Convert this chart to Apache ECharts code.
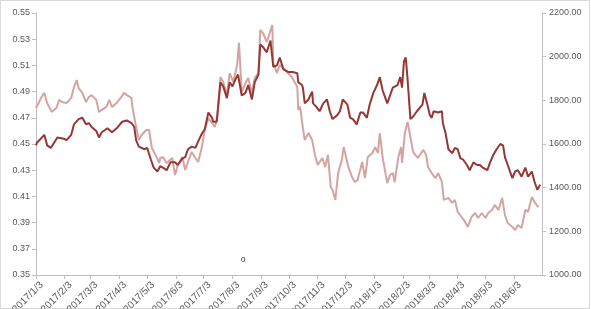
<!DOCTYPE html>
<html>
<head>
<meta charset="utf-8">
<script src="https://cdn.jsdelivr.net/npm/echarts@6/dist/echarts.min.js"></script>
<style>html,body{margin:0;padding:0;background:#fff;}#c{width:591px;height:309px;}</style>
</head>
<body>
<div id="c"></div>
<script>
// Calendar days since 2017/1/3 for each reading, and values
const darkDays = [0,1,9,12,16,23,30,33,38,41,46,50,54,57,60,65,68,71,77,82,87,93,98,103,106,108,111,117,120,124,127,131,134,137,141,145,150,153,158,161,164,168,172,175,179,182,186,190,191,195,196,199,202,206,209,212,215,218,222,226,229,233,236,240,242,245,249,253,256,260,263,267,272,277,282,283,287,288,290,294,298,299,303,306,310,314,317,320,325,328,331,336,339,342,346,350,353,357,360,364,368,371,374,379,382,385,390,393,395,397,399,401,404,407,411,417,419,422,425,427,429,434,438,439,442,445,449,452,455,458,461,465,468,472,476,479,482,487,490,493,497,501,504,506,509,514,517,520,524,528,531,535,538,541,544];
const darkValues = [0.449,0.451,0.457,0.449,0.447,0.455,0.454,0.453,0.457,0.465,0.469,0.470,0.465,0.466,0.463,0.460,0.455,0.459,0.462,0.459,0.462,0.467,0.468,0.466,0.463,0.453,0.448,0.446,0.447,0.438,0.432,0.429,0.433,0.432,0.430,0.436,0.436,0.434,0.439,0.440,0.446,0.448,0.447,0.452,0.458,0.461,0.474,0.470,0.467,0.467,0.475,0.497,0.494,0.485,0.497,0.494,0.499,0.503,0.487,0.489,0.495,0.484,0.497,0.503,0.526,0.524,0.520,0.529,0.509,0.510,0.516,0.507,0.505,0.505,0.504,0.497,0.495,0.493,0.481,0.484,0.490,0.481,0.478,0.475,0.481,0.484,0.475,0.469,0.472,0.475,0.484,0.480,0.470,0.469,0.465,0.474,0.474,0.470,0.480,0.489,0.495,0.501,0.491,0.481,0.487,0.493,0.495,0.501,0.493,0.513,0.516,0.499,0.469,0.471,0.475,0.480,0.489,0.481,0.472,0.470,0.475,0.474,0.475,0.466,0.458,0.446,0.443,0.447,0.446,0.439,0.438,0.434,0.430,0.436,0.434,0.434,0.432,0.430,0.436,0.441,0.446,0.450,0.449,0.440,0.434,0.424,0.429,0.430,0.425,0.432,0.425,0.429,0.421,0.415,0.419];
const lightDays = [0,1,6,9,12,17,22,25,28,33,38,41,44,46,50,54,57,60,65,68,71,76,79,82,87,92,95,98,103,104,108,111,114,119,122,125,129,133,134,137,141,147,150,153,158,161,164,168,172,175,179,182,186,190,193,196,199,202,206,209,213,217,219,222,226,229,233,236,240,242,245,249,255,256,260,263,269,272,276,282,283,285,288,290,294,298,301,304,309,312,315,318,320,323,326,330,332,337,341,344,347,352,355,358,363,366,369,371,374,379,382,385,387,391,394,395,398,401,404,407,412,418,421,423,427,431,434,438,440,445,449,452,455,460,463,466,470,474,477,481,485,488,492,495,499,503,506,509,514,517,520,524,528,531,535,538,542];
const lightValues = [1765,1770,1815,1834,1788,1747,1765,1802,1792,1788,1811,1861,1893,1856,1834,1792,1815,1824,1802,1747,1756,1770,1802,1770,1788,1815,1834,1824,1811,1770,1678,1618,1641,1664,1664,1582,1550,1513,1536,1540,1513,1536,1458,1504,1540,1481,1518,1563,1536,1518,1586,1664,1719,1696,1678,1733,1907,1884,1824,1925,1884,1962,2063,1838,1879,1902,1834,1902,1925,2122,2108,2067,2145,1971,1925,1962,1939,1925,1907,1861,1756,1770,1673,1618,1650,1618,1550,1504,1536,1495,1550,1403,1389,1344,1467,1527,1586,1495,1449,1426,1435,1518,1444,1540,1559,1586,1559,1650,1540,1421,1458,1467,1426,1540,1586,1513,1650,1701,1632,1563,1536,1573,1550,1495,1467,1444,1467,1426,1344,1353,1330,1344,1289,1261,1243,1220,1266,1284,1261,1284,1261,1284,1298,1321,1298,1353,1275,1238,1220,1206,1229,1215,1298,1289,1357,1334,1311];
const monthTicks = ['2017/1/3','2017/2/3','2017/3/3','2017/4/3','2017/5/3','2017/6/3','2017/7/3','2017/8/3','2017/9/3','2017/10/3','2017/11/3','2017/12/3','2018/1/3','2018/2/3','2018/3/3','2018/4/3','2018/5/3','2018/6/3'];
const leftTicks = [0.35,0.37,0.39,0.41,0.43,0.45,0.47,0.49,0.51,0.53,0.55];
const rightTicks = [1000,1200,1400,1600,1800,2000,2200];
const startDate = '2017/1/3', endDate = '2018/7/3';

const DAY = 86400000;
function ts(s){const p=s.split('/').map(Number);return Date.UTC(p[0],p[1]-1,p[2]);}
const t0 = ts(startDate);
function dayOf(s){return Math.round((ts(s)-t0)/DAY);}
function fmtDay(v){const d=new Date(t0+Math.round(v)*DAY);return d.getUTCFullYear()+'/'+(d.getUTCMonth()+1)+'/'+d.getUTCDate();}
const darkData = darkDays.map((d,i)=>[d, darkValues[i]]);
const lightData = lightDays.map((d,i)=>[d, lightValues[i]]);
const monthPos = monthTicks.map(dayOf);

const FONT = 'Liberation Sans';
const GRAY = '#595959';
const AXIS = '#BFBFBF';
const chart = echarts.init(document.getElementById('c'), null, {renderer:'canvas'});
chart.setOption({
  animation:false,
  backgroundColor:'#fff',
  grid:{left:36,right:49,top:13,bottom:34,containLabel:false,outerBoundsMode:'none'},
  xAxis:{
    type:'value', min:0, max:dayOf(endDate),
    axisLine:{show:true,onZero:false,lineStyle:{color:AXIS,width:1}},
    axisTick:{show:true,length:4,lineStyle:{color:AXIS},customValues:monthPos},
    axisLabel:{customValues:monthPos,rotate:45,verticalAlign:'top',fontFamily:FONT,fontSize:10,color:GRAY,margin:7,padding:[0,-3,0,0],formatter:fmtDay},
    splitLine:{show:false}
  },
  yAxis:[{
    type:'value', min:0.35, max:0.55, position:'left',
    axisLine:{show:true,lineStyle:{color:AXIS,width:1}},
    axisTick:{show:true,length:4,lineStyle:{color:AXIS},customValues:leftTicks},
    axisLabel:{customValues:leftTicks,fontFamily:FONT,fontSize:9,color:GRAY,margin:6,formatter:v=>v.toFixed(2)},
    splitLine:{show:false}
  },{
    type:'value', min:1000, max:2200, interval:200, position:'right',
    axisLine:{show:true,lineStyle:{color:AXIS,width:1}},
    axisTick:{show:true,length:4,lineStyle:{color:AXIS},customValues:rightTicks},
    axisLabel:{customValues:rightTicks,fontFamily:FONT,fontSize:9,color:GRAY,margin:7,formatter:v=>v.toFixed(2)},
    splitLine:{show:false}
  }],
  series:[
    {type:'line',yAxisIndex:1,data:lightData,showSymbol:false,lineStyle:{color:'#D4A4A1',width:2},itemStyle:{color:'#D4A4A1'}},
    {type:'line',yAxisIndex:0,data:darkData,showSymbol:false,lineStyle:{color:'#953735',width:2},itemStyle:{color:'#953735'}}
  ],
  graphic:[
    {type:'rect',shape:{x:0.5,y:0.5,width:589,height:308},style:{fill:null,stroke:'#D9D9D9',lineWidth:1},silent:true},
    {type:'text',left:241,top:256,style:{text:'0',fontFamily:FONT,fontSize:8,fill:'#222'}}
  ]
});
</script>
</body>
</html>
